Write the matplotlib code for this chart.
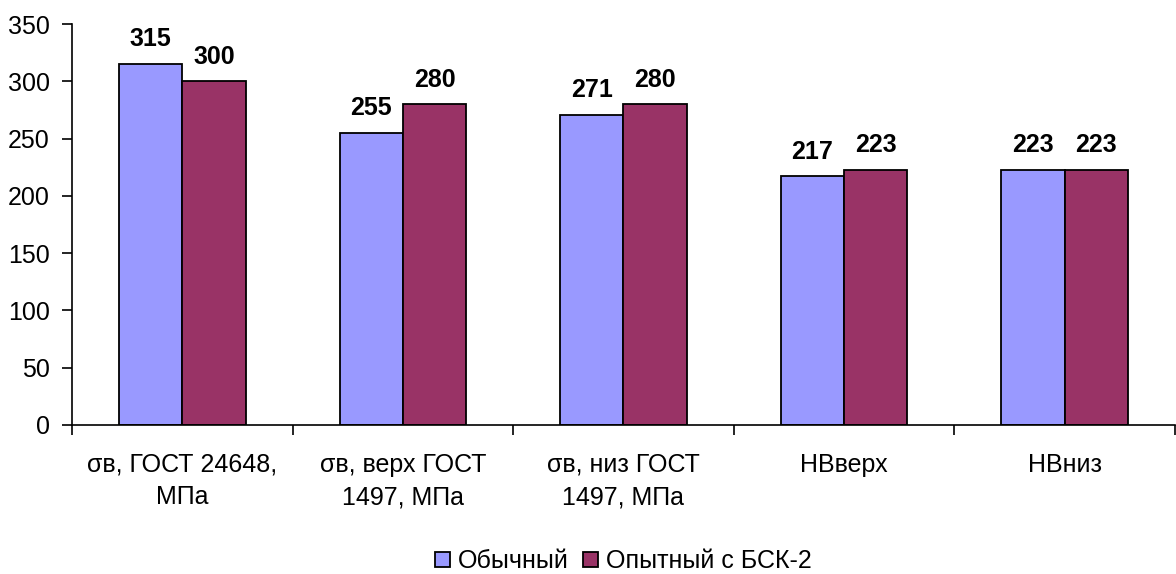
import matplotlib.pyplot as plt
import numpy as np

plt.rcParams['font.family'] = ['Liberation Sans', 'DejaVu Sans']

categories = ['σв, ГОСТ 24648,\nМПа', 'σв, верх ГОСТ\n1497, МПа', 'σв, низ ГОСТ\n1497, МПа', 'НВверх', 'НВниз']
usual = [315, 255, 271, 217, 223]
bsk = [300, 280, 280, 223, 223]
series_names = ['Обычный', 'Опытный с БСК-2']

fig = plt.figure(figsize=(11.76, 5.74), dpi=100)
ax = fig.add_axes([72 / 1176, 1 - 425 / 574, 1 - 72 / 1176 - 0.001, (425 - 24) / 574])

x = np.arange(len(categories)) + 0.5
w = 0.287
b1 = ax.bar(x - w / 2, usual, width=w, color='#9999FF', edgecolor='black', linewidth=1.3, label=series_names[0])
b2 = ax.bar(x + w / 2, bsk, width=w, color='#993366', edgecolor='black', linewidth=1.3, label=series_names[1])

for bars in (b1, b2):
    for bar in bars:
        h = bar.get_height()
        ax.text(bar.get_x() + bar.get_width() / 2, h + 11, f'{h:g}', ha='center', va='bottom',
                fontsize=18, fontweight='bold')

ax.set_xlim(0, len(categories))
ax.set_ylim(0, 350)
ax.set_yticks(np.arange(0, 351, 50))
ax.set_xticks(x)
ax.set_xticklabels(categories, fontsize=18, linespacing=1.45)
ax.set_xticks(np.arange(0, len(categories) + 1), minor=True)
ax.tick_params(axis='x', which='major', length=0, pad=20)
ax.tick_params(axis='x', which='minor', length=7, direction='out', width=1.2)
ax.tick_params(axis='y', labelsize=18, length=7, width=1.2, direction='out', pad=9)

for s in ['top', 'right']:
    ax.spines[s].set_visible(False)
for s in ['left', 'bottom']:
    ax.spines[s].set_linewidth(1.2)

ax.legend(loc='center', bbox_to_anchor=(0.5, -0.34), ncol=2, frameon=False, fontsize=18,
          handlelength=0.6, handleheight=0.6, handletextpad=0.3, columnspacing=0.6)

fig.savefig('out.png', dpi=100)
